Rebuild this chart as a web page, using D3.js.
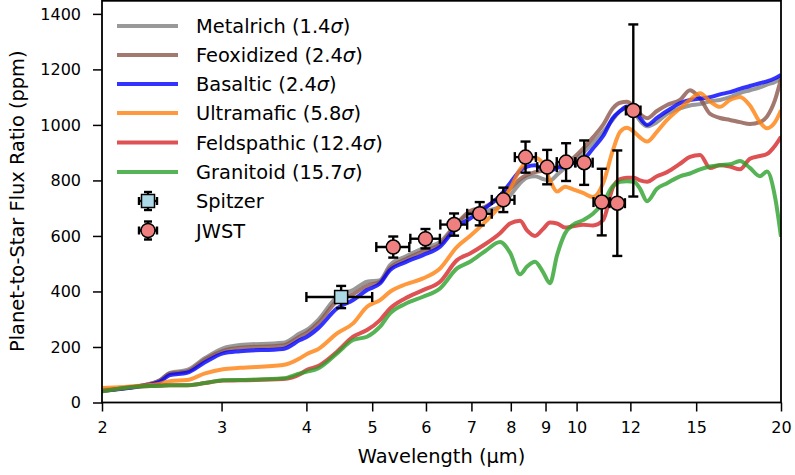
<!DOCTYPE html>
<html><head><meta charset="utf-8">
<script src="https://cdn.jsdelivr.net/npm/d3@7"></script>
<style>body{margin:0;background:#fff}svg{display:block;font-family:"DejaVu Sans",sans-serif}</style>
</head><body><svg id="c" width="795" height="475"></svg>
<script>
const wavelengths = [2.00,2.275,2.435,2.518,2.668,2.836,3.015,3.194,3.695,3.914,4.008,4.161,4.438,4.686,4.913,5.135,5.312,5.589,5.941,6.293,6.666,6.967,7.330,7.713,7.979,8.254,8.453,8.685,8.924,9.138,9.357,9.614,9.879,10.22,10.57,10.94,11.31,11.59,11.86,12.15,12.40,12.70,13.13,13.59,14.20,14.69,15.20,15.72,16.26,16.82,17.40,18.00,18.62,19.07,19.60,20.0];
const metalrich   = [45,60,80,107,117,160,195,207,215,249,262,297,381,405,435,441,495,525,555,579,645,680,690,705,745,790,810,815,805,800,820,845,865,900,935,975,1020,1050,1060,1045,1015,995,1010,1040,1060,1070,1075,1085,1090,1100,1115,1125,1135,1145,1155,1168];
const feoxidized  = [45,60,80,105,112,155,186,197,205,238,252,285,365,390,420,435,485,515,545,570,645,690,705,740,770,805,820,830,835,838,848,860,880,915,955,1000,1060,1080,1083,1066,1040,1024,1050,1072,1090,1125,1095,1040,1025,1018,1010,1003,1010,1030,1090,1165];
const basaltic    = [42,58,75,99,107,145,177,185,193,225,237,267,339,369,405,429,477,505,531,561,633,663,700,745,790,835,850,855,840,835,845,850,862,874,915,960,1025,1050,1066,1054,1025,1000,1025,1050,1078,1090,1095,1100,1110,1118,1130,1140,1150,1157,1168,1180];
const ultramafic  = [52,60,68,77,81,105,120,125,135,159,175,192,249,285,345,369,399,425,447,483,561,600,650,710,770,840,870,882,860,800,760,777,768,755,740,790,909,975,990,975,955,940,975,1018,1060,1090,1114,1085,1065,1090,1101,1070,1010,988,1010,1053];
const feldspathic = [40,58,60,62,62,70,79,80,85,102,118,131,183,237,261,297,339,375,405,435,513,537,570,610,645,655,620,600,625,648,645,630,635,640,638,657,775,805,810,810,800,795,815,830,860,885,892,845,855,850,840,878,888,895,925,957];
const granitoid   = [40,58,60,62,62,70,80,81,87,105,111,123,177,225,237,273,321,355,381,411,483,507,545,578,540,462,490,507,470,430,530,609,640,657,680,720,780,795,797,795,770,725,770,790,815,825,840,850,855,858,870,845,815,832,740,597];

const modelNames  = ["Metalrich","Feoxidized","Basaltic","Ultramafic","Feldspathic","Granitoid"];
const modelSigma  = ["1.4","2.4","2.4","5.8","12.4","15.7"];
const modelColors = ["#7f7f7f","#8c564b","#0000ff","#ff7f0e","#d62728","#2ca02c"];

const jwstWl   = [5.37,5.99,6.60,7.20,7.80,8.41,9.05,9.65,10.26,10.89,11.48,12.12];
const jwstFlux = [560,590,641,680,730,884,848,866,864,722,718,1052];
const jwstErr  = [38,35,40,42,44,56,62,68,80,120,190,310];
const jwstXerr = [0.3,0.3,0.3,0.3,0.3,0.3,0.3,0.3,0.3,0.3,0.3,0.3];
const spitzerWl = [4.5], spitzerFlux = [380], spitzerErr = [40], spitzerXerr = [0.5];

const xTicks = [2,3,4,5,6,7,8,9,10,12,15,20];
const yTicks = [0,200,400,600,800,1000,1200,1400];

const series = [metalrich,feoxidized,basaltic,ultramafic,feldspathic,granitoid];

const L=102, R=781, T=0, B=402.5;
const svg = d3.select("#c");
const x = d3.scaleLog().domain([2,20]).range([L,R]);
const y = d3.scaleLinear().domain([0,1450]).range([B,T]);

svg.append("clipPath").attr("id","clip").append("rect").attr("x",L).attr("y",T).attr("width",R-L).attr("height",B-T);
const g = svg.append("g").attr("clip-path","url(#clip)");

const line = d3.line().x(d=>x(d[0])).y(d=>y(d[1])).curve(d3.curveMonotoneX);
series.forEach((s,i)=>{
  g.append("path").datum(wavelengths.map((w,j)=>[w,s[j]]))
   .attr("d",line).attr("fill","none").attr("stroke",modelColors[i])
   .attr("stroke-opacity",0.8).attr("stroke-width",4).attr("stroke-linejoin","round");
});

function errbar(gp, cx, cy, xlo, xhi, ylo, yhi, cap){
  const s="#000", w=2.4;
  gp.append("line").attr("x1",xlo).attr("x2",xhi).attr("y1",cy).attr("y2",cy).attr("stroke",s).attr("stroke-width",w);
  gp.append("line").attr("x1",cx).attr("x2",cx).attr("y1",ylo).attr("y2",yhi).attr("stroke",s).attr("stroke-width",w);
  [xlo,xhi].forEach(v=>gp.append("line").attr("x1",v).attr("x2",v).attr("y1",cy-cap).attr("y2",cy+cap).attr("stroke",s).attr("stroke-width",w));
  [ylo,yhi].forEach(v=>gp.append("line").attr("y1",v).attr("y2",v).attr("x1",cx-cap).attr("x2",cx+cap).attr("stroke",s).attr("stroke-width",w));
}
const pg = svg.append("g");
spitzerWl.forEach((w,i)=>{
  const cx=x(w), cy=y(spitzerFlux[i]);
  errbar(pg,cx,cy,x(w-spitzerXerr[i]),x(w+spitzerXerr[i]),y(spitzerFlux[i]-spitzerErr[i]),y(spitzerFlux[i]+spitzerErr[i]),5);
  pg.append("rect").attr("x",cx-6.5).attr("y",cy-6.5).attr("width",13).attr("height",13).attr("fill","#add8e6").attr("stroke","#000").attr("stroke-width",1.5);
});
jwstWl.forEach((w,i)=>{
  const cx=x(w), cy=y(jwstFlux[i]);
  errbar(pg,cx,cy,x(w-jwstXerr[i]),x(w+jwstXerr[i]),y(jwstFlux[i]-jwstErr[i]),y(jwstFlux[i]+jwstErr[i]),5);
});
jwstWl.forEach((w,i)=>{
  pg.append("circle").attr("cx",x(w)).attr("cy",y(jwstFlux[i])).attr("r",7).attr("fill","#f08080").attr("stroke","#000").attr("stroke-width",1.5);
});

// axes
const xa = svg.append("g").attr("transform",`translate(0,${B})`)
  .call(d3.axisBottom(x).tickValues(xTicks).tickFormat(d3.format("d")).tickSize(9).tickPadding(10));
const ya = svg.append("g").attr("transform",`translate(${L},0)`)
  .call(d3.axisLeft(y).tickValues(yTicks).tickFormat(d3.format("d")).tickSize(9).tickPadding(12));
[xa,ya].forEach(a=>{
  a.select(".domain").remove();
  a.selectAll(".tick line").attr("stroke","#000").attr("stroke-width",1.5);
  a.selectAll(".tick text").attr("fill","#000").style("font-size","16px").style("font-family","DejaVu Sans");
});
svg.append("rect").attr("x",L).attr("y",T+0.8).attr("width",R-L).attr("height",B-T-0.8).attr("fill","none").attr("stroke","#000").attr("stroke-width",1.8);

svg.append("text").attr("x",(L+R)/2).attr("y",463).attr("text-anchor","middle").style("font-size","19.4px").text("Wavelength (μm)");
svg.append("text").attr("transform",`translate(24,${(T+B)/2}) rotate(-90)`).attr("text-anchor","middle").style("font-size","19.4px").text("Planet-to-Star Flux Ratio (ppm)");

// legend
const lg = svg.append("g");
const rowY = [26,55,84,113,142.5,172,201,230.5];
modelNames.forEach((n,i)=>{
  lg.append("line").attr("x1",117).attr("x2",178).attr("y1",rowY[i]).attr("y2",rowY[i]).attr("stroke",modelColors[i]).attr("stroke-opacity",0.8).attr("stroke-width",4);
  const t = lg.append("text").attr("x",196).attr("y",rowY[i]+7).style("font-size","19.4px");
  t.append("tspan").text(n+" ("+modelSigma[i]);
  t.append("tspan").attr("font-style","italic").text("σ");
  t.append("tspan").text(")");
});
function legErr(cy){
  const cx=148;
  errbar(lg,cx,cy,cx-9,cx+9,cy-9,cy+9,4);
}
legErr(rowY[6]);
lg.append("rect").attr("x",148-6.5).attr("y",rowY[6]-6.5).attr("width",13).attr("height",13).attr("fill","#add8e6").attr("stroke","#000").attr("stroke-width",1.5);
lg.append("text").attr("x",196).attr("y",rowY[6]+7).style("font-size","19.4px").text("Spitzer");
legErr(rowY[7]);
lg.append("circle").attr("cx",148).attr("cy",rowY[7]).attr("r",7).attr("fill","#f08080").attr("stroke","#000").attr("stroke-width",1.5);
lg.append("text").attr("x",196).attr("y",rowY[7]+7).style("font-size","19.4px").text("JWST");
</script></body></html>
